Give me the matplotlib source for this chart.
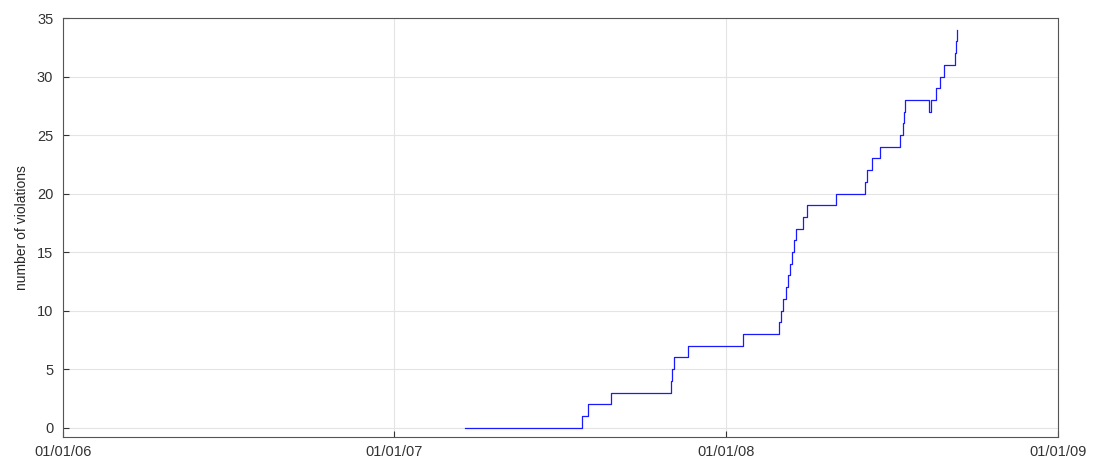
import matplotlib
matplotlib.use("Agg")
import matplotlib.pyplot as plt
import matplotlib.dates as mdates
from datetime import datetime

# Change dates (step-post) and cumulative violation counts
dates = [
    "2007-03-20", "2007-07-27", "2007-08-02", "2007-08-28", "2007-11-02",
    "2007-11-03", "2007-11-05", "2007-11-07", "2007-11-20", "2008-01-20",
    "2008-02-29", "2008-03-02", "2008-03-04", "2008-03-07", "2008-03-10",
    "2008-03-12", "2008-03-14", "2008-03-16", "2008-03-18", "2008-03-26",
    "2008-03-31", "2008-05-01", "2008-06-03", "2008-06-05", "2008-06-10",
    "2008-06-19", "2008-07-11", "2008-07-14", "2008-07-15", "2008-07-17",
    "2008-08-12", "2008-08-14", "2008-08-20", "2008-08-24", "2008-08-28",
    "2008-09-10", "2008-09-11", "2008-09-12",
]
counts = [
    0, 1, 2, 3, 4,
    5, 6, 6, 7, 8,
    9, 10, 11, 12, 13,
    14, 15, 16, 17, 18,
    19, 20, 21, 22, 23,
    24, 25, 26, 27, 28,
    27, 28, 29, 30, 31,
    32, 33, 34,
]
xticks = ["2006-01-01", "2007-01-01", "2008-01-01", "2009-01-01"]
yticks = [0, 5, 10, 15, 20, 25, 30, 35]

plt.rcParams['font.family'] = ['Liberation Sans', 'DejaVu Sans']

fig = plt.figure(figsize=(10.94, 4.57), dpi=100)
ax = fig.add_axes([0.0576, 0.0438, 0.9094, 0.9168])

d = [datetime.strptime(s, "%Y-%m-%d") for s in dates]
ax.plot(d, counts, drawstyle='steps-post', color='#1a1aff', lw=0.9)

xt = [datetime.strptime(s, "%Y-%m-%d") for s in xticks]
ax.set_xlim(xt[0], xt[-1])
ax.set_ylim(-0.8, 35)
ax.set_xticks(xt)
ax.xaxis.set_major_formatter(mdates.DateFormatter("%m/%d/%y"))
ax.set_yticks(yticks)

ax.grid(True, color='#e4e4e4', lw=0.8)
ax.set_axisbelow(True)
ax.tick_params(direction='in', length=4, width=0.8, colors='#333333',
               labelsize=10.5)
ax.tick_params(axis='y', pad=7)
ax.tick_params(axis='x', pad=5.5)
for s in ax.spines.values():
    s.set_color('#555555')
    s.set_linewidth(0.8)

ax.set_ylabel("number of violations", fontsize=10,
              family=['Liberation Sans Narrow', 'Liberation Sans', 'DejaVu Sans'],
              labelpad=6, color='#262626')

fig.savefig("out.png", dpi=100)
